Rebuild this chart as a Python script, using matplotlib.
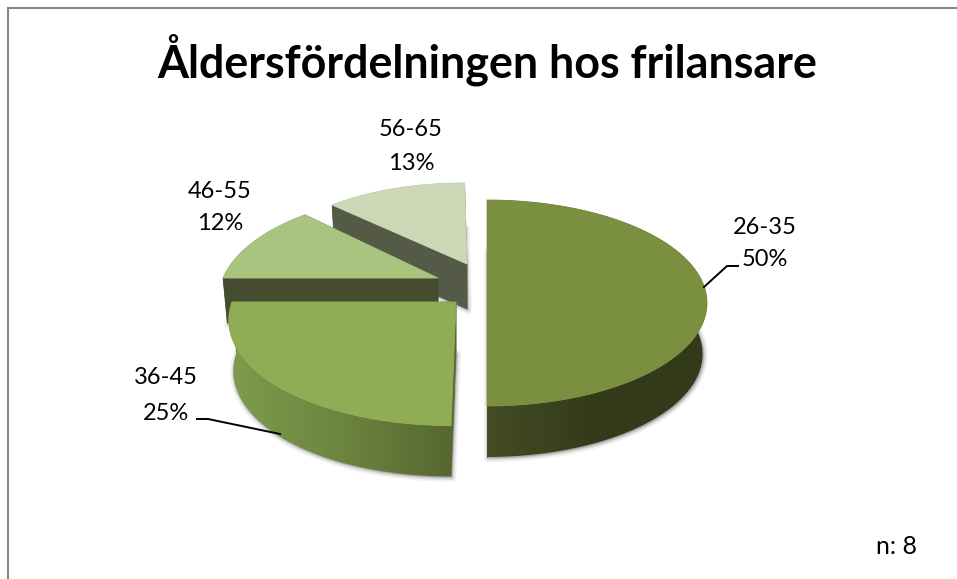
import numpy as np
import matplotlib
matplotlib.use("Agg")
import matplotlib.pyplot as plt
from matplotlib.colors import LinearSegmentedColormap
from matplotlib.patches import Polygon

plt.rcParams['font.family'] = ['Lato', 'DejaVu Sans']

categories = ["26-35", "36-45", "46-55", "56-65"]
values = [4, 2, 1, 1]
percent_labels = ["50%", "25%", "12%", "13%"]
title = "Åldersfördelningen hos frilansare"
note = "n: 8"

W, H = 957, 579

# look of each slice: apex x, apex y, rx, ry, perspective, shear, depth
slice_geom = [
    (487, 303, 220, 103, 0.00, 0.00, 51),
    (456, 302, 224, 105, 0.15, 0.04, 51),
    (438, 278, 215, 102, 0.20, 0.00, 45),
    (467, 264, 203, 90, 0.11, -0.03, 45),
]
top_colors = ["#7b8f41", "#8fad55", "#a9c47f", "#ccd8b5"]
side_colors = [
    ["#444c24", "#333a1a", "#333a1a"],
    ["#7f9c4c", "#6c853f", "#566730"],
    ["#454c30", "#454c30", "#454c30"],
    ["#555a47", "#555a47", "#555a47"],
]
cut_colors = ["#444c24", "#566730", "#454c30", "#555a47"]
label_pos = [(765, 228, 259), (166, 377, 413), (220, 191, 224), (411, 130, 164)]


def project(geom, angles, lower=False):
    cx, cy, rx, ry, p, sh, depth = geom
    u, v = np.cos(angles), np.sin(angles)
    w = 1 + p * v
    if lower:
        cy = cy + depth
        rx = rx * 0.98
    x = cx + rx * u / w + sh * ry * v / w
    y = cy - ry * v / w
    return np.column_stack([x, y])


def gradient_fill(ax, pts, colors, z):
    cmap = LinearSegmentedColormap.from_list("side", colors)
    x0, x1 = pts[:, 0].min(), pts[:, 0].max()
    y0, y1 = pts[:, 1].min(), pts[:, 1].max()
    im = ax.imshow(np.linspace(0, 1, 256).reshape(1, -1), cmap=cmap, aspect="auto",
                   extent=(x0, x1, y1, y0), interpolation="bilinear", zorder=z)
    clip = Polygon(pts, closed=True, transform=ax.transData, fc="none", ec="none")
    ax.add_patch(clip)
    im.set_clip_path(clip)


fig = plt.figure(figsize=(W / 100, H / 100), dpi=100)
ax = fig.add_axes([0, 0, 1, 1])

# angles come from the values, clockwise from twelve o'clock
fractions = np.array(values) / sum(values)
ends = 90 - 360 * np.cumsum(fractions)
starts = ends + 360 * fractions

z = 1
for i in [3, 2, 1, 0]:
    geom = slice_geom[i]
    theta = np.radians(np.linspace(starts[i], ends[i], 160))
    top_arc = project(geom, theta)
    low_arc = project(geom, theta, lower=True)
    apex = np.array([[geom[0], geom[1]]])
    low_apex = np.array([[geom[0], geom[1] + geom[6]]])

    # soft shadow round the lower face
    low_poly = np.vstack([low_apex, low_arc])
    for lw, alpha in [(6, 0.10), (3.5, 0.18), (1.5, 0.25)]:
        ax.add_patch(Polygon(low_poly + [1, 1], closed=True, fc="#808080", ec="#808080",
                             lw=lw, alpha=alpha, joinstyle="round", zorder=z))
    z += 1

    # cut faces
    for arc_t, arc_l in [(top_arc[0], low_arc[0]), (top_arc[-1], low_arc[-1])]:
        face = np.array([apex[0], arc_t, arc_l, low_apex[0]])
        ax.add_patch(Polygon(face, closed=True, fc=cut_colors[i], ec=cut_colors[i], lw=0.5, zorder=z))
    z += 1

    # rim
    rim = np.vstack([top_arc, low_arc[::-1]])
    gradient_fill(ax, rim, side_colors[i], z)
    z += 1

    # top face
    top_poly = np.vstack([apex, top_arc])
    ax.add_patch(Polygon(top_poly, closed=True, fc=top_colors[i], ec=top_colors[i], lw=0.6, zorder=z))
    z += 1

# leader lines
ax.plot([704, 727, 738], [287, 266, 266], color="black", lw=1.4, solid_joinstyle="round", zorder=z)
ax.plot([197, 208, 280], [419, 419, 434], color="black", lw=1.4, solid_joinstyle="round", zorder=z)

for cat, pct, (x, y1, y2) in zip(categories, percent_labels, label_pos):
    ax.text(x, y1, cat, ha="center", va="center", fontsize=17, color="black", zorder=z)
    ax.text(x, y2, pct, ha="center", va="center", fontsize=17, color="black", zorder=z)

ax.text(487, 60, title, ha="center", va="center", fontsize=32.3, fontweight="bold", color="black", zorder=z)
ax.text(896, 547, note, ha="center", va="center", fontsize=18, color="black", zorder=z)

# chart frame, cropped on the right and at the bottom
ax.plot([8, 8, W], [H, 8, 8], color="#868686", lw=1.5, solid_joinstyle="miter", zorder=z)

ax.set_xlim(0, W)
ax.set_ylim(H, 0)
ax.axis("off")
fig.savefig("out.png", dpi=100, facecolor="white")
